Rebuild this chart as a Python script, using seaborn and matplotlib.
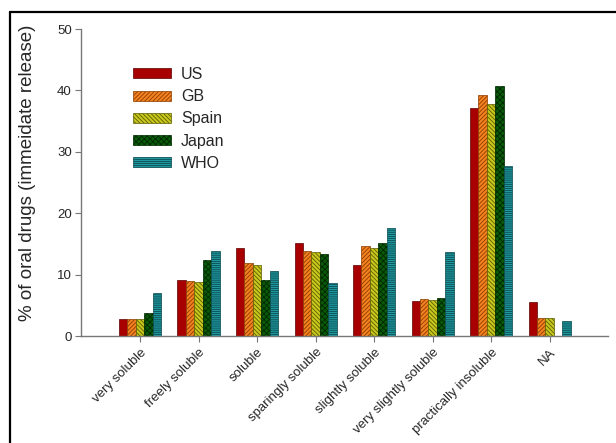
import matplotlib
matplotlib.use("Agg")
import matplotlib.pyplot as plt
import seaborn as sns
import pandas as pd
from matplotlib.lines import Line2D

categories = ["very soluble", "freely soluble", "soluble", "sparingly soluble",
              "slightly soluble", "very slightly soluble", "practically insoluble", "NA"]
series = ["US", "GB", "Spain", "Japan", "WHO"]
us =    [2.8, 9.1, 14.3, 15.1, 11.6, 5.7, 37.1, 5.5]
gb =    [2.8, 9.0, 11.9, 13.8, 14.7, 6.0, 39.3, 2.9]
spain = [2.8, 8.8, 11.6, 13.7, 14.3, 5.9, 37.8, 2.9]
japan = [3.7, 12.4, 9.1, 13.4, 15.1, 6.2, 40.7, 0.0]
who =   [7.0, 13.8, 10.6, 8.6, 17.6, 13.7, 27.7, 2.4]

colors = ["#a80000", "#f58220", "#c8c81e", "#0a5a0a", "#1f9aa0"]
edges = ["#5a0000", "#8a3c00", "#5c5c00", "#002800", "#0b4a50"]
hatches = ["", "////////", "\\\\\\\\\\\\\\\\", "xxxxxx", "--------"]

rows = []
for s, vals in zip(series, [us, gb, spain, japan, who]):
    for c, v in zip(categories, vals):
        rows.append({"cat": c, "country": s, "val": v})
df = pd.DataFrame(rows)

sns.set_style("ticks")
plt.rcParams["font.family"] = ["Liberation Sans", "DejaVu Sans"]
plt.rcParams["hatch.linewidth"] = 0.6

fig = plt.figure(figsize=(6.16, 4.43), dpi=100)
ax = fig.add_axes([0.1323, 0.2415, 0.855, 0.693])
sns.barplot(data=df, x="cat", y="val", hue="country", order=categories,
            hue_order=series, palette=colors, width=0.72, ax=ax,
            linewidth=0.5, saturation=1, errorbar=None)

for i, cont in enumerate(ax.containers):
    for p in cont:
        p.set_hatch(hatches[i])
        p.set_edgecolor(edges[i])
        if p.get_height() == 0:
            p.set_visible(False)

ax.set_ylim(0, 50)
ax.set_xlim(-1.0, 8.0)
ax.set_yticks([0, 10, 20, 30, 40, 50])
ax.set_xlabel("")
ax.set_ylabel("% of oral drugs (immeidate release)", fontsize=13.5)
ax.yaxis.set_label_coords(-0.086, 0.53)
for sp in ["left", "bottom"]:
    ax.spines[sp].set_color("#777777")
    ax.spines[sp].set_linewidth(1.0)
ax.tick_params(axis="y", labelsize=9.5, length=4, color="#777777", pad=3)
ax.tick_params(axis="x", labelsize=9.5, length=4, color="#777777")
plt.setp(ax.get_xticklabels(), rotation=45, ha="right", rotation_mode="anchor")
sns.despine(ax=ax)

handles, labels = ax.get_legend_handles_labels()
for h, hh, ec in zip(handles, hatches, edges):
    h.set_hatch(hh)
    h.set_edgecolor(ec)
ax.legend(handles, labels, loc="upper left", bbox_to_anchor=(0.0705, 0.923), frameon=False,
          fontsize=11.5, handlelength=2.4, handleheight=0.6, labelspacing=0.45, handletextpad=0.6)

fx = 9.5 / 616
fy = 1 - 12 / 443
fig.lines.append(Line2D([fx, fx], [0, fy], transform=fig.transFigure, color="black", linewidth=1.6))
fig.lines.append(Line2D([fx, 1], [fy, fy], transform=fig.transFigure, color="black", linewidth=1.6))
fig.savefig("out.png", dpi=100)
